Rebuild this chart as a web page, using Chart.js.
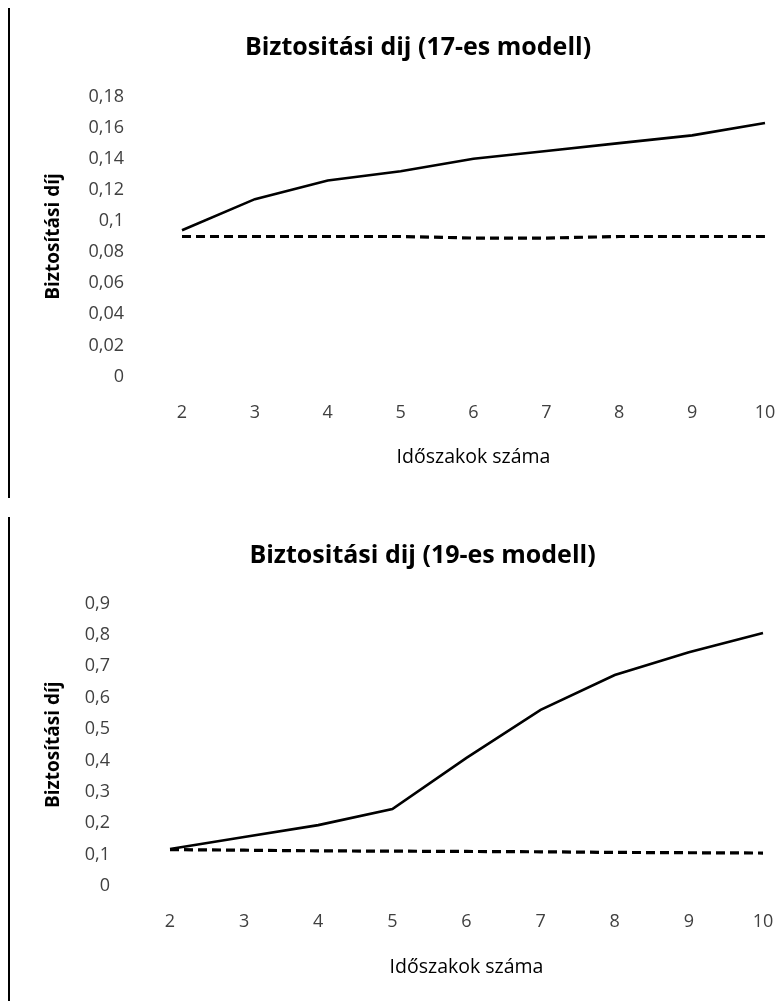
<!DOCTYPE html>
<html>
<head>
<meta charset="utf-8">
<script src="https://cdn.jsdelivr.net/npm/chart.js@4/dist/chart.umd.min.js"></script>
<style>
  html, body { margin: 0; padding: 0; background: #fff; overflow: hidden; }
  body { width: 779px; height: 1001px; position: relative; }
  .wrap { position: absolute; left: 0; width: 779px; }
  .vline { position: absolute; left: 8px; width: 2px; background: #000; }
</style>
</head>
<body>
<div class="vline" style="top:8px;height:490px"></div>
<div class="vline" style="top:517px;height:484px"></div>
<div class="wrap" style="top:0;height:498px"><canvas id="c1" width="779" height="498"></canvas></div>
<div class="wrap" style="top:498px;height:503px"><canvas id="c2" width="779" height="503"></canvas></div>
<script>
// ---- data ----
const periods = ['2', '3', '4', '5', '6', '7', '8', '9', '10'];

const title17 = 'Biztositási dij (17-es modell)';
const title19 = 'Biztositási dij (19-es modell)';
const yAxisTitle = 'Biztosítási díj';
const xAxisTitle = 'Időszakok száma';

const model17Solid  = [0.094, 0.114, 0.126, 0.132, 0.140, 0.145, 0.150, 0.155, 0.163];
const model17Dashed = [0.090, 0.090, 0.090, 0.090, 0.089, 0.089, 0.090, 0.090, 0.090];

const model19Solid  = [0.118, 0.156, 0.194, 0.245, 0.408, 0.561, 0.672, 0.745, 0.806];
const model19Dashed = [0.116, 0.114, 0.112, 0.111, 0.110, 0.109, 0.107, 0.106, 0.105];

const yTickValues17 = [0, 0.02, 0.04, 0.06, 0.08, 0.1, 0.12, 0.14, 0.16, 0.18];
const yTickLabels17 = ['0', '0,02', '0,04', '0,06', '0,08', '0,1', '0,12', '0,14', '0,16', '0,18'];
const yTickValues19 = [0, 0.1, 0.2, 0.3, 0.4, 0.5, 0.6, 0.7, 0.8, 0.9];
const yTickLabels19 = ['0', '0,1', '0,2', '0,3', '0,4', '0,5', '0,6', '0,7', '0,8', '0,9'];

// ---- rendering ----
const FONT = "'Open Sans', Lato, sans-serif";

function makeChart(canvasId, cfg) {
  const titleShift = {
    id: 'titleShift',
    afterLayout(chart) {
      const tb = chart.titleBlock;
      if (tb) { tb.left = cfg.titleLeft; tb.right = cfg.titleRight; }
    }
  };
  return new Chart(document.getElementById(canvasId), {
    type: 'line',
    data: {
      labels: periods,
      datasets: [
        { data: cfg.solid, borderColor: '#000', borderWidth: 2.6, pointRadius: 0, tension: 0, fill: false },
        { data: cfg.dashed, borderColor: '#000', borderWidth: 3.2, borderDash: [9, 5], pointRadius: 0, tension: 0, fill: false }
      ]
    },
    options: {
      responsive: false,
      animation: false,
      events: [],
      layout: { padding: { left: 0, right: 779 - cfg.areaRight, top: 0, bottom: 0 } },
      plugins: {
        legend: { display: false },
        tooltip: { enabled: false },
        title: {
          display: true,
          text: cfg.title,
          color: '#000',
          font: { family: FONT, size: 25, weight: 'bold', lineHeight: 1.2 },
          padding: { top: cfg.titlePadTop, bottom: cfg.titlePadBottom }
        }
      },
      scales: {
        x: {
          type: 'category',
          offset: false,
          grid: { display: false, drawTicks: false },
          border: { display: false },
          ticks: {
            color: '#404040',
            padding: cfg.xTickPad,
            maxRotation: 0,
            autoSkip: false,
            font: { family: FONT, size: 18, lineHeight: 1.2 }
          },
          title: {
            display: true,
            text: xAxisTitle,
            color: '#000',
            font: { family: FONT, size: 19.5, lineHeight: 1.2 },
            padding: { top: 0, bottom: cfg.xTitlePadBottom }
          },
          afterFit(scale) {
            scale.height = cfg.canvasH - cfg.areaBottom;
            scale.paddingLeft = 0;
            scale.paddingRight = 0;
          }
        },
        y: {
          min: 0,
          max: cfg.yMax,
          grid: { display: false, drawTicks: false },
          border: { display: false },
          afterBuildTicks(scale) { scale.ticks = cfg.yTickValues.map(v => ({ value: v })); },
          ticks: {
            color: '#404040',
            padding: cfg.yTickPad,
            font: { family: FONT, size: 18, lineHeight: 1.2 },
            callback: (value, index) => cfg.yTickLabels[index]
          },
          title: {
            display: true,
            text: yAxisTitle,
            color: '#000',
            font: { family: FONT, size: 19, weight: 'bold', lineHeight: 1.2 },
            padding: { top: cfg.yTitlePadTop, bottom: 0 }
          },
          afterFit(scale) {
            scale.width = cfg.areaLeft;
            scale.paddingTop = 0;
            scale.paddingBottom = 0;
          }
        }
      }
    },
    plugins: [titleShift]
  });
}

makeChart('c1', {
  title: title17, solid: model17Solid, dashed: model17Dashed,
  yMax: 0.18, yTickValues: yTickValues17, yTickLabels: yTickLabels17,
  canvasH: 498, areaLeft: 182, areaRight: 765, areaBottom: 376.5,
  titlePadTop: 33, titlePadBottom: 33.5,
  xTickPad: 25.7, xTitlePadBottom: 29.3, yTitlePadTop: 42.6, yTickPad: 58,
  titleLeft: 71, titleRight: 765
});

makeChart('c2', {
  title: title19, solid: model19Solid, dashed: model19Dashed,
  yMax: 0.9, yTickValues: yTickValues19, yTickLabels: yTickLabels19,
  canvasH: 503, areaLeft: 170, areaRight: 763, areaBottom: 388,
  titlePadTop: 43, titlePadBottom: 32.5,
  xTickPad: 25.2, xTitlePadBottom: 22.3, yTitlePadTop: 42.6, yTickPad: 60,
  titleLeft: 80, titleRight: 765
});
</script>
</body>
</html>
